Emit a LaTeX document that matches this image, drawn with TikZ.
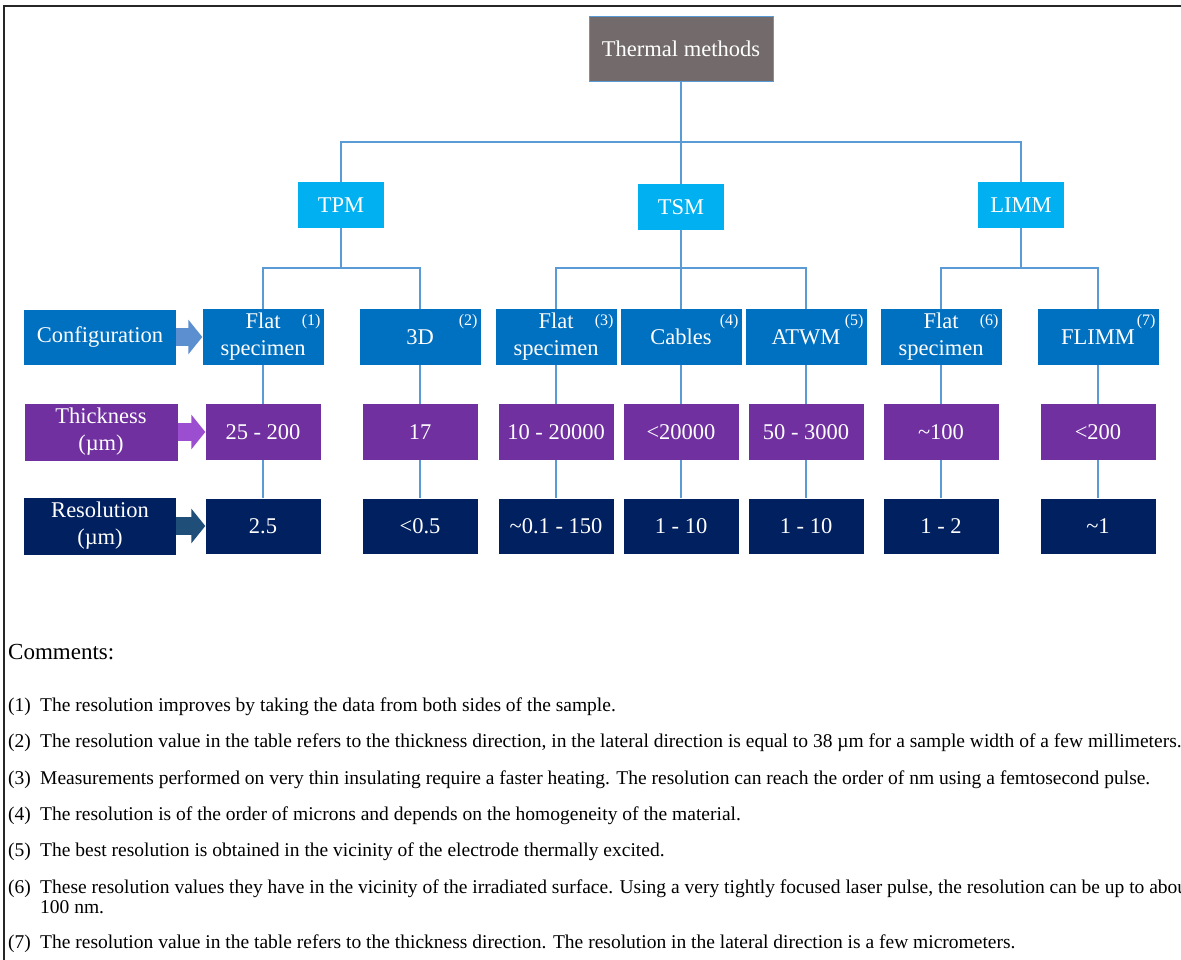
\documentclass[tikz,border=0pt]{standalone}
\usepackage{fontspec}
\setmainfont{Liberation Serif}
\usetikzlibrary{arrows.meta}

\definecolor{methgray}{HTML}{736B6B}
\definecolor{methblue}{HTML}{00B0F0}
\definecolor{cfgblue}{HTML}{0070C0}
\definecolor{thkpurple}{HTML}{7030A0}
\definecolor{resnavy}{HTML}{002060}
\definecolor{linkblue}{HTML}{5B9BD5}
\definecolor{cfgarrow}{HTML}{5B8FD0}
\definecolor{thkarrow}{HTML}{9B4FD0}
\definecolor{resarrow}{HTML}{1F4E79}

\tikzset{
    box/.style={fill=#1, text=white, inner sep=0pt, align=center,
        font=\fontsize{22.5}{27}\selectfont},
    methbox/.style={box=methblue, minimum width=86, minimum height=46},
    cfgbox/.style={box=cfgblue, minimum width=121, minimum height=56},
    thkbox/.style={box=thkpurple, minimum width=115, minimum height=56},
    resbox/.style={box=resnavy, minimum width=115, minimum height=55},
    link/.style={draw=linkblue, line width=1.6pt},
    note/.style={text=white, inner sep=0pt, anchor=north east,
        font=\fontsize{16}{16}\selectfont},
    blockarrow/.style={draw=#1, line width=18pt,
        -{Triangle[length=14pt,width=34pt]}},
    comment/.style={anchor=base west, inner sep=0pt,
        font=\fontsize{19.5}{20}\selectfont}
}

\begin{document}
\begin{tikzpicture}[x=1pt, y=-1pt]

    \useasboundingbox (0,0) rectangle (1181,960);
    \clip (0,0) rectangle (1181,960);
    \fill[white] (0,0) rectangle (1181,960);

    % Frame
    \draw[line width=1.6pt, black!85] (4,960) -- (4,6) -- (1181,6);

    % Top of the tree
    \node[box=methgray, draw=linkblue, line width=0.8pt,
          minimum width=184, minimum height=65] (top) at (681,49) {Thermal methods};
    \node[methbox] (tpm) at (341,205) {TPM};
    \node[methbox] (tsm) at (681,207) {TSM};
    \node[methbox] (limm) at (1021,205) {LIMM};

    % Row labels
    \node[cfgbox, minimum width=152, minimum height=55] (cfg) at (100,337) {Configuration};
    \node[thkbox, minimum width=153, minimum height=57] (thk) at (101,432) {Thickness\\(µm)};
    \node[resbox, minimum width=152, minimum height=57] (res) at (100,526) {Resolution\\(µm)};

    % Configurations
    \node[cfgbox] (flat1) at (263,337) {Flat\\specimen};
    \node[cfgbox] (threed) at (420,337) {3D};
    \node[cfgbox] (flat3) at (556,337) {Flat\\specimen};
    \node[cfgbox] (cables) at (681,337) {Cables};
    \node[cfgbox] (atwm) at (806,337) {ATWM};
    \node[cfgbox] (flat6) at (941,337) {Flat\\specimen};
    \node[cfgbox] (flimm) at (1098,337) {FLIMM};

    % Notes on the configurations
    \node[note] (n1) at ([xshift=-3pt, yshift=-5pt]flat1.north east) {(1)};
    \node[note] (n2) at ([xshift=-3pt, yshift=-5pt]threed.north east) {(2)};
    \node[note] (n3) at ([xshift=-3pt, yshift=-5pt]flat3.north east) {(3)};
    \node[note] (n4) at ([xshift=-3pt, yshift=-5pt]cables.north east) {(4)};
    \node[note] (n5) at ([xshift=-3pt, yshift=-5pt]atwm.north east) {(5)};
    \node[note] (n6) at ([xshift=-3pt, yshift=-5pt]flat6.north east) {(6)};
    \node[note] (n7) at ([xshift=-3pt, yshift=-5pt]flimm.north east) {(7)};

    % Thickness
    \node[thkbox] (thk1) at (263,432) {25 - 200};
    \node[thkbox] (thk2) at (420,432) {17};
    \node[thkbox] (thk3) at (556,432) {10 - 20000};
    \node[thkbox] (thk4) at (681,432) {<20000};
    \node[thkbox] (thk5) at (806,432) {50 - 3000};
    \node[thkbox] (thk6) at (941,432) {\textasciitilde100};
    \node[thkbox] (thk7) at (1098,432) {<200};

    % Resolution
    \node[resbox] (res1) at (263,526) {2.5};
    \node[resbox] (res2) at (420,526) {<0.5};
    \node[resbox] (res3) at (556,526) {\textasciitilde0.1 - 150};
    \node[resbox] (res4) at (681,526) {1 - 10};
    \node[resbox] (res5) at (806,526) {1 - 10};
    \node[resbox] (res6) at (941,526) {1 - 2};
    \node[resbox] (res7) at (1098,526) {\textasciitilde1};

    % Tree links
    \coordinate (bus) at (681,142);
    \coordinate (tpmbus) at (341,268);
    \coordinate (tsmbus) at (681,268);
    \coordinate (limmbus) at (1021,268);
    \draw[link] (top.south) -- (tsm.north);
    \draw[link] (tpm.north) |- (bus) -| (limm.north);
    \draw[link] (tpm.south) -- (tpmbus);
    \draw[link] (flat1.north) |- (tpmbus) -| (threed.north);
    \draw[link] (tsm.south) -- (cables.north);
    \draw[link] (flat3.north) |- (tsmbus) -| (atwm.north);
    \draw[link] (limm.south) -- (limmbus);
    \draw[link] (flat6.north) |- (limmbus) -| (flimm.north);

    % Columns
    \draw[link] (flat1.south) -- (thk1.north) (thk1.south) -- (res1.north);
    \draw[link] (threed.south) -- (thk2.north) (thk2.south) -- (res2.north);
    \draw[link] (flat3.south) -- (thk3.north) (thk3.south) -- (res3.north);
    \draw[link] (cables.south) -- (thk4.north) (thk4.south) -- (res4.north);
    \draw[link] (atwm.south) -- (thk5.north) (thk5.south) -- (res5.north);
    \draw[link] (flat6.south) -- (thk6.north) (thk6.south) -- (res6.north);
    \draw[link] (flimm.south) -- (thk7.north) (thk7.south) -- (res7.north);

    % Block arrows
    \draw[blockarrow=cfgarrow] (cfg.east) -- (flat1.west);
    \draw[blockarrow=thkarrow] (thk.east) -- (thk1.west);
    \draw[blockarrow=resarrow] (res.east) -- (res1.west);

    % Comments
    \node[comment, font=\fontsize{23}{23}\selectfont] (head) at (8,659) {Comments:};
    \node[comment] (k1) at (8,711) {(1)};
    \node[comment] (c1) at (40,711) {The resolution improves by taking the data from both sides of the sample.};
    \node[comment] (k2) at (8,747) {(2)};
    \node[comment] (c2) at (40,747) {The resolution value in the table refers to the thickness direction, in the lateral direction is equal to 38 µm for a sample width of a few millimeters.};
    \node[comment] (k3) at (8,784) {(3)};
    \node[comment] (c3) at (40,784) {Measurements performed on very thin insulating require a faster heating. The resolution can reach the order of nm using a femtosecond pulse.};
    \node[comment] (k4) at (8,820) {(4)};
    \node[comment] (c4) at (40,820) {The resolution is of the order of microns and depends on the homogeneity of the material.};
    \node[comment] (k5) at (8,856) {(5)};
    \node[comment] (c5) at (40,856) {The best resolution is obtained in the vicinity of the electrode thermally excited.};
    \node[comment] (k6) at (8,893) {(6)};
    \node[comment] (c6) at (40,893) {These resolution values they have in the vicinity of the irradiated surface. Using a very tightly focused laser pulse, the resolution can be up to about};
    \node[comment] (c6b) at (40,913) {100 nm.};
    \node[comment] (k7) at (8,948) {(7)};
    \node[comment] (c7) at (40,948) {The resolution value in the table refers to the thickness direction. The resolution in the lateral direction is a few micrometers.};

\end{tikzpicture}
\end{document}
